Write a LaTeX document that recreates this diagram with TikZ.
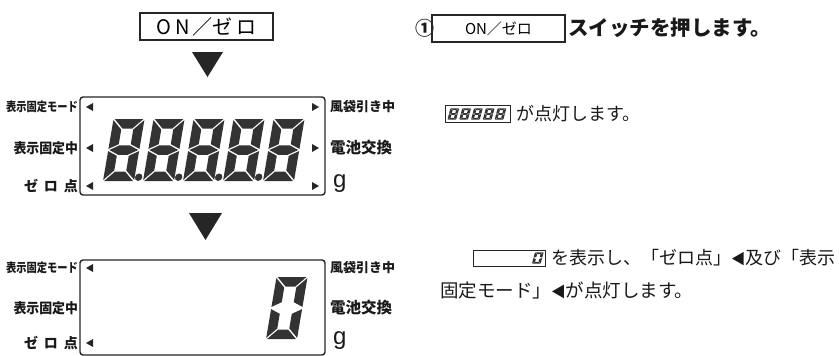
\documentclass[tikz,border=0pt]{standalone}
\usepackage{fontspec}
\usepackage{graphicx}
\newfontfamily\jp{Noto Sans CJK JP}
\newfontfamily\lat{Liberation Sans}
\newcommand\fs[1]{\fontsize{#1}{#1}\selectfont}
\def\SW{31}\def\SH{62}\def\ST{9.5}\def\SG{1.1}
% seven-segment digit: #1 scope options, #2 list of lit segments (a..g, p = point)
\newcommand\SegDigit[2]{%
  \begin{scope}[#1, xslant=0.17]
  \foreach \sg in {#2}{%
    \if a\sg \fill[seg] ({\SG},{-\SH}) -- ({\SW-\SG},{-\SH}) -- ({\SW-\ST-\SG},{-\SH+\ST}) -- ({\ST+\SG},{-\SH+\ST}) -- cycle;\fi
    \if b\sg \fill[seg] ({\SW},{-\SH+\SG}) -- ({\SW-\ST},{-\SH+\ST+\SG}) -- ({\SW-\ST},{-\SH/2-\ST/2-\SG}) -- ({\SW},{-\SH/2-\SG}) -- cycle;\fi
    \if c\sg \fill[seg] ({\SW},{-\SH/2+\SG}) -- ({\SW-\ST},{-\SH/2+\ST/2+\SG}) -- ({\SW-\ST},{-\ST-\SG}) -- ({\SW},{-\SG}) -- cycle;\fi
    \if d\sg \fill[seg] ({\SG},0) -- ({\SW-\SG},0) -- ({\SW-\ST-\SG},{-\ST}) -- ({\ST+\SG},{-\ST}) -- cycle;\fi
    \if e\sg \fill[seg] (0,{-\SH/2+\SG}) -- ({\ST},{-\SH/2+\ST/2+\SG}) -- ({\ST},{-\ST-\SG}) -- (0,{-\SG}) -- cycle;\fi
    \if f\sg \fill[seg] (0,{-\SH+\SG}) -- ({\ST},{-\SH+\ST+\SG}) -- ({\ST},{-\SH/2-\ST/2-\SG}) -- (0,{-\SH/2-\SG}) -- cycle;\fi
    \if g\sg \fill[seg] ({\SG},{-\SH/2}) -- ({\ST+\SG},{-\SH/2-\ST/2}) -- ({\SW-\ST-\SG},{-\SH/2-\ST/2}) -- ({\SW-\SG},{-\SH/2}) -- ({\SW-\ST-\SG},{-\SH/2+\ST/2}) -- ({\ST+\SG},{-\SH/2+\ST/2}) -- cycle;\fi
    \if p\sg \fill[seg] ({\SW+4},-3.8) circle (3.7);\fi
  }%
  \end{scope}}
\begin{document}
\begin{tikzpicture}[x=1pt,y=-1pt,
  every node/.style={inner sep=0pt, outer sep=0pt, font=\jp},
  seg/.style={fill=black!80},
  lcd/.style={draw=black!85, line width=1.4pt, rounded corners=3pt},
  keybox/.style={draw=black!85, line width=1.1pt},
  bigtri/.style={fill=black!85},
  marker/.style={fill=black!85},
  llab/.style={anchor=east, text=black!90, font=\jp\bfseries},
  rlab/.style={anchor=west, text=black!90, font=\jp\bfseries},
  note/.style={anchor=west, text=black!90}]
\useasboundingbox (0,0) rectangle (839,356);
\fill[white] (0,0) rectangle (839,356);

% ---------- left column ----------
\node[keybox, minimum width=133pt, minimum height=27pt, font=\jp\fs{20}] (onkey) at (206.5,26.5) {O\,N\,／ゼ\,ロ};
\fill[bigtri] (192,52) -- (223,52) -- (207.5,77) -- cycle;

\node[lcd, minimum width=245pt, minimum height=98pt] (lcd1) at (202.5,146) {};
\foreach \i in {0,1,2,3}{\SegDigit{shift={(103+40*\i,181)}}{a,b,c,d,e,f,g,p}}
\SegDigit{shift={(263,181)}}{a,b,c,d,e,f,g}

\foreach \yy in {107,148,186}{
  \fill[marker] (86,\yy) -- (93,\yy-4) -- (93,\yy+4) -- cycle;
  \fill[marker] (319,\yy) -- (312,\yy-4) -- (312,\yy+4) -- cycle;
}
\node[llab] (l1a) at (78,107) {\fs{12.5}\scalebox{0.82}[1]{表示固定モード}};
\node[llab] (l1b) at (78,148) {\fs{14}\scalebox{0.92}[1]{表示固定中}};
\node[llab] (l1c) at (78,186) {\fs{14}ゼ\hspace{6pt}ロ\hspace{6pt}点};
\node[rlab] (r1a) at (330,107) {\fs{13}風袋引き中};
\node[rlab] (r1b) at (330,148) {\fs{15.5}電池交換};
\node[rlab, font=\lat] (r1c) at (333,184) {\fs{24}g};

\fill[bigtri] (189,213) -- (222,213) -- (205.5,240) -- cycle;

\node[lcd, minimum width=245pt, minimum height=95pt] (lcd2) at (202.5,307.5) {};
\SegDigit{shift={(266,339)}}{a,b,c,d,e,f}
\foreach \yy in {268,343}{
  \fill[marker] (86,\yy) -- (93,\yy-4) -- (93,\yy+4) -- cycle;
}
\node[llab] (l2a) at (78,268) {\fs{12.5}\scalebox{0.82}[1]{表示固定モード}};
\node[llab] (l2b) at (78,308) {\fs{14}\scalebox{0.92}[1]{表示固定中}};
\node[llab] (l2c) at (78,343) {\fs{14}ゼ\hspace{6pt}ロ\hspace{6pt}点};
\node[rlab] (r2a) at (330,268) {\fs{13}風袋引き中};
\node[rlab] (r2b) at (330,308) {\fs{15.5}電池交換};
\node[rlab, font=\lat] (r2c) at (333,341) {\fs{24}g};

% ---------- right column ----------
\node[note] (num1) at (415.5,28) {\fs{19}\bfseries ①};
\node[keybox, minimum width=133pt, minimum height=27pt, font=\jp\fs{15}] (onkey2) at (498.5,28.5) {ON／ゼロ};
\node[note] (push) at (568,28) {\fs{20.5}\bfseries スイッチを押します。};

\node[draw=black!85, line width=1pt, minimum width=65pt, minimum height=17pt] (allbox) at (477.5,113.5) {};
\foreach \i in {0,...,4}{\SegDigit{shift={(447.5+11.8*\i,119.5)}, xscale=0.28, yscale=0.18}{a,b,c,d,e,f,g}}
\node[note] (lit) at (516,113.5) {\fs{18}が点灯します。};

\node[draw=black!85, line width=1pt, minimum width=72pt, minimum height=16pt] (zerobox) at (509,258) {};
\SegDigit{shift={(532,263.5)}, xscale=0.28, yscale=0.18}{a,b,c,d,e,f}
\node[note] (z1) at (551,258) {\fs{18}を表示し、「ゼロ点」{\scalebox{0.8}{◀}}及び「表示};
\node[note] (z2) at (440,290) {\fs{18.5}固定モード」{\scalebox{0.8}{◀}}が点灯します。};
\end{tikzpicture}
\end{document}
